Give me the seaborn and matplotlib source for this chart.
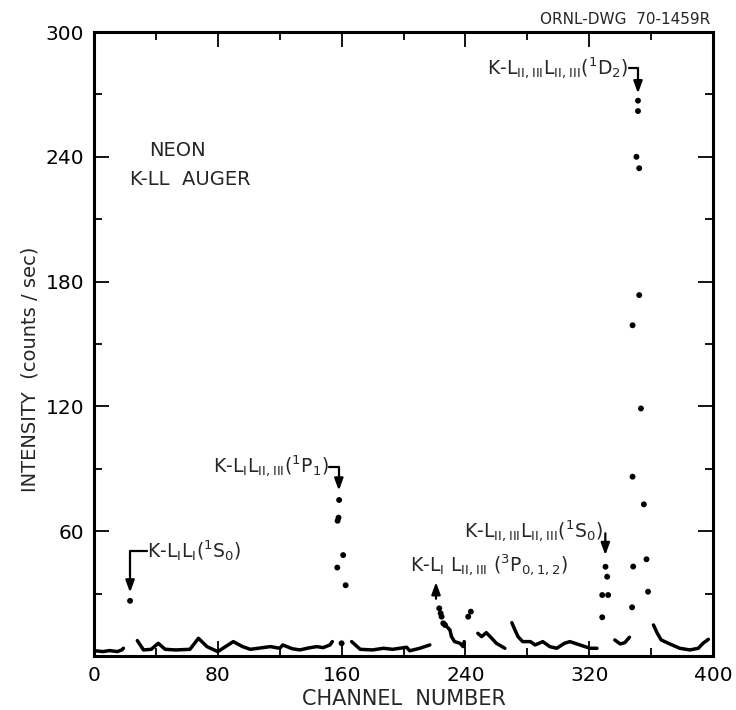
import numpy as np
import pandas as pd
import matplotlib
matplotlib.use("Agg")
import matplotlib.pyplot as plt
import seaborn as sns
from matplotlib.ticker import MultipleLocator

# ---------------- data ----------------
# continuous background traces (channel, counts/sec)
seg_a_ch = [0, 2, 6, 10, 15, 18, 19]
seg_a_ct = [2.5, 2.4, 2.1, 2.6, 2.1, 2.9, 3.7]
seg_b_ch = [28, 32, 37, 41.5, 46, 53, 62, 67.5, 73, 80, 90, 96, 101, 107, 114,
            120, 122, 128, 133, 139, 144, 148, 152.5, 154]
seg_b_ct = [7.4, 2.9, 3.2, 6.1, 3.2, 2.9, 3.2, 8.5, 4.5, 2.1, 6.9, 4.5, 3.2, 3.8, 4.5,
            3.7, 5.3, 3.5, 2.9, 3.9, 4.5, 4.0, 5.3, 6.9]
seg_c_ch = [166.5, 172, 180, 187, 193, 202, 204, 210.5, 217]
seg_c_ct = [6.9, 3.2, 2.9, 3.7, 3.2, 4.2, 2.5, 3.7, 5.3]
seg_d_ch = [228, 230, 231, 233, 236.5, 238.5, 239.2]
seg_d_ct = [14.1, 12.5, 9.3, 6.9, 6.1, 4.5, 6.9]
seg_e_ch = [248, 250.5, 253.5, 257, 260, 265.5]
seg_e_ct = [10.9, 9.3, 11.2, 8.5, 6.1, 3.7]
seg_f_ch = [270, 272, 274, 277, 282, 285, 290, 294.5, 299, 304, 307.5, 314, 320.5, 325]
seg_f_ct = [16, 12.5, 9.3, 6.9, 6.9, 5.3, 6.9, 4.5, 3.7, 6.1, 6.9, 5.3, 3.7, 3.7]
seg_g_ch = [336.5, 340, 343, 346]
seg_g_ct = [7.7, 5.8, 6.4, 9.0]
seg_h_ch = [361.5, 364, 366.5, 372, 378.5, 385, 390.5, 393.5, 397]
seg_h_ct = [14.9, 10.9, 7.7, 5.8, 3.7, 2.9, 3.7, 6.1, 8.0]

# isolated points on the peaks
dot_ch = [23.3, 160.0,
          158.4, 158.0, 157.4, 161.0, 157.2, 162.6,
          223.1, 224.0, 224.6, 225.7, 226.8, 241.8, 243.5,
          330.5, 331.6, 328.4, 332.2, 328.4,
          351.5, 351.5, 350.5, 352.3, 352.3, 348.0, 353.4, 348.0,
          355.3, 348.4, 357.0, 358.0, 347.7]
dot_ct = [26.5, 6.1,
          75.0, 66.5, 65.0, 48.5, 42.5, 34.0,
          22.9, 20.5, 18.9, 15.7, 14.9, 18.9, 21.3,
          42.9, 38.1, 29.3, 29.3, 18.6,
          267.0, 262.0, 240.0, 234.5, 173.5, 159.0, 119.0, 86.2,
          72.9, 43.0, 46.5, 30.9, 23.4]

x_ticks = [0, 80, 160, 240, 320, 400]
y_ticks = [0, 60, 120, 180, 240, 300]
y_tick_labels = ["", "60", "120", "180", "240", "300"]

# ---------------- build tables ----------------
segs = [(seg_a_ch, seg_a_ct), (seg_b_ch, seg_b_ct), (seg_c_ch, seg_c_ct),
        (seg_d_ch, seg_d_ct), (seg_e_ch, seg_e_ct), (seg_f_ch, seg_f_ct),
        (seg_g_ch, seg_g_ct), (seg_h_ch, seg_h_ct)]
bg = pd.concat([pd.DataFrame({"channel": c, "counts": v, "segment": i})
                for i, (c, v) in enumerate(segs)], ignore_index=True)
pk = pd.DataFrame({"channel": dot_ch, "counts": dot_ct})

# ---------------- plot ----------------
sns.set_theme(style="ticks")
plt.rcParams["font.family"] = ["DejaVu Sans"]
plt.rcParams["mathtext.fontset"] = "dejavusans"

fig = plt.figure(figsize=(7.36, 7.10), dpi=100)
ax = fig.add_axes([0.1277, 0.0761, 0.8411, 0.8788])

sns.lineplot(data=bg, x="channel", y="counts", units="segment", estimator=None,
             sort=False, color="black", linewidth=2.5, ax=ax, legend=False)
sns.scatterplot(data=pk, x="channel", y="counts", color="black", s=18,
                edgecolor="none", ax=ax, legend=False)

ax.set_xlim(0, 400)
ax.set_ylim(0, 300)
ax.set_xticks(x_ticks)
ax.set_xticklabels([str(t) for t in x_ticks])
ax.set_yticks(y_ticks)
ax.set_yticklabels(y_tick_labels)
ax.xaxis.set_minor_locator(MultipleLocator(40))
ax.yaxis.set_minor_locator(MultipleLocator(30))
ax.tick_params(which="both", direction="in", top=True, right=True,
               colors="black", labelsize=14.5)
ax.tick_params(which="major", length=11, width=1.3, pad=7)
ax.tick_params(which="minor", length=5.5, width=1.3)
for sp in ax.spines.values():
    sp.set_linewidth(2.2)
    sp.set_color("black")
    sp.set_visible(True)

ax.set_xlabel("CHANNEL  NUMBER", fontsize=15, labelpad=3)
ax.set_ylabel("INTENSITY  (counts / sec)", fontsize=14)
ax.yaxis.set_label_coords(-0.088, 0.46)

# header texts
ax.text(54, 243, "NEON", fontsize=14, ha="center", va="center")
ax.text(62, 229, "K-LL  AUGER", fontsize=14, ha="center", va="center")
fig.text(0.965, 0.972, "ORNL-DWG  70-1459R", fontsize=11, ha="right", va="center")

# line annotations
aprops = dict(arrowstyle="-|>,head_length=0.6,head_width=0.22", color="black",
              lw=1.6, shrinkA=0, shrinkB=0)
lab_fs = 13.5

ax.text(34.5, 50.6, r"K-L$_{\rm I}$L$_{\rm I}$($^{1}$S$_{0}$)", fontsize=lab_fs,
        ha="left", va="center")
ax.annotate("", xy=(23.3, 30.5), xytext=(34, 50.6),
            arrowprops=dict(aprops, connectionstyle="angle,angleA=0,angleB=90,rad=0"))

ax.text(151.5, 91, r"K-L$_{\rm I}$L$_{\rm II,III}$($^{1}$P$_{1}$)", fontsize=lab_fs,
        ha="right", va="center")
ax.annotate("", xy=(158.2, 79.5), xytext=(152, 91),
            arrowprops=dict(aprops, connectionstyle="angle,angleA=0,angleB=90,rad=0"))

ax.text(204, 43.7, r"K-L$_{\rm I}$ L$_{\rm II,III}$ ($^{3}$P$_{0,1,2}$)", fontsize=lab_fs,
        ha="left", va="center")
ax.annotate("", xy=(221, 35.5), xytext=(221, 27.5), arrowprops=aprops)

ax.text(328.8, 60, r"K-L$_{\rm II,III}$L$_{\rm II,III}$($^{1}$S$_{0}$)", fontsize=lab_fs,
        ha="right", va="center")
ax.annotate("", xy=(330.4, 48.5), xytext=(330.4, 59), arrowprops=aprops)

ax.text(345, 282.5, r"K-L$_{\rm II,III}$L$_{\rm II,III}$($^{1}$D$_{2}$)", fontsize=lab_fs,
        ha="right", va="center")
ax.annotate("", xy=(351.5, 270.5), xytext=(345.5, 282.5),
            arrowprops=dict(aprops, connectionstyle="angle,angleA=0,angleB=90,rad=0"))

fig.savefig("out.png", dpi=100, facecolor="white")
